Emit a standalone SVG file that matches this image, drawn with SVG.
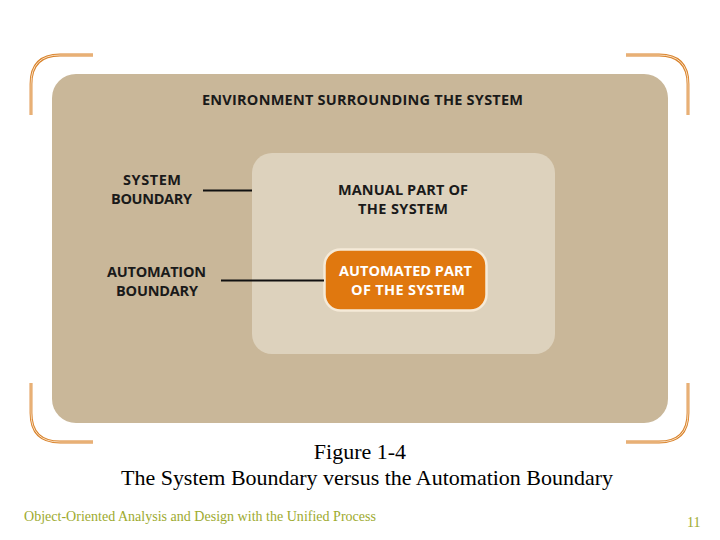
<svg xmlns="http://www.w3.org/2000/svg" width="720" height="540" viewBox="0 0 720 540">
<style>
.lbl{font-family:"Open Sans","Liberation Sans",sans-serif;font-weight:bold;font-size:14.5px;fill:#1a1a1a;text-anchor:middle}
.wl{fill:#ffffff}
.cap{font-family:"Liberation Serif","Times New Roman",serif;font-size:22px;fill:#000;text-anchor:middle}
.brk{fill:none;stroke:#D9822A;stroke-width:2.8}
.brki{fill:none;stroke:#FBE9D2;stroke-width:0.9}
.conn{stroke:#111;stroke-width:2;fill:none}
.ft{font-family:"Liberation Serif","Times New Roman",serif;font-size:14px;fill:#9DAA2E}
</style>
<rect width="720" height="540" fill="#ffffff"/>
<g id="brackets">
<path class="brk" d="M31,115 V84 Q31,55 60,55 H93"/>
<path class="brki" d="M31,115 V84 Q31,55 60,55 H93"/>
<path class="brk" d="M626,55 H659 Q688,55 688,84 V115"/>
<path class="brki" d="M626,55 H659 Q688,55 688,84 V115"/>
<path class="brk" d="M31,383 V413 Q31,442 60,442 H93"/>
<path class="brki" d="M31,383 V413 Q31,442 60,442 H93"/>
<path class="brk" d="M626,442 H659 Q688,442 688,413 V383"/>
<path class="brki" d="M626,442 H659 Q688,442 688,413 V383"/>
</g>
<g id="environment">
<rect x="52" y="74" width="616" height="349" rx="24" fill="#C9B799"/>
<text class="lbl" x="362.5" y="105" textLength="321" lengthAdjust="spacing">ENVIRONMENT SURROUNDING THE SYSTEM</text>
</g>
<g id="manual">
<rect x="252" y="153" width="303" height="201" rx="20" fill="#DDD2BD"/>
<text class="lbl" x="403" y="195" textLength="130" lengthAdjust="spacing">MANUAL PART OF</text>
<text class="lbl" x="403" y="214" textLength="90" lengthAdjust="spacing">THE SYSTEM</text>
</g>
<g id="automated">
<rect x="324.5" y="249.5" width="162" height="61" rx="16" fill="#E0780F" stroke="#F5EAD8" stroke-width="2.5"/>
<text class="lbl wl" x="405.5" y="276" textLength="133" lengthAdjust="spacing">AUTOMATED PART</text>
<text class="lbl wl" x="408" y="295" textLength="114" lengthAdjust="spacing">OF THE SYSTEM</text>
</g>
<g id="system-boundary-label">
<text class="lbl" x="152" y="185" textLength="58" lengthAdjust="spacing">SYSTEM</text>
<text class="lbl" x="151.5" y="204" textLength="81" lengthAdjust="spacing">BOUNDARY</text>
</g>
<g id="automation-boundary-label">
<text class="lbl" x="156.5" y="277" textLength="99" lengthAdjust="spacing">AUTOMATION</text>
<text class="lbl" x="157" y="296" textLength="82" lengthAdjust="spacing">BOUNDARY</text>
</g>
<g id="connectors">
<line class="conn" x1="203" y1="190.5" x2="252" y2="190.5"/>
<line class="conn" x1="221" y1="280.5" x2="324" y2="280.5"/>
</g>
<g id="caption">
<text class="cap" x="360" y="459">Figure 1-4</text>
<text class="cap" x="367" y="485" textLength="492" lengthAdjust="spacingAndGlyphs">The System Boundary versus the Automation Boundary</text>
</g>
<g id="footer">
<text class="ft" x="24" y="521" textLength="352" lengthAdjust="spacingAndGlyphs">Object-Oriented Analysis and Design with the Unified Process</text>
<text class="ft" x="687" y="527">11</text>
</g>
</svg>
